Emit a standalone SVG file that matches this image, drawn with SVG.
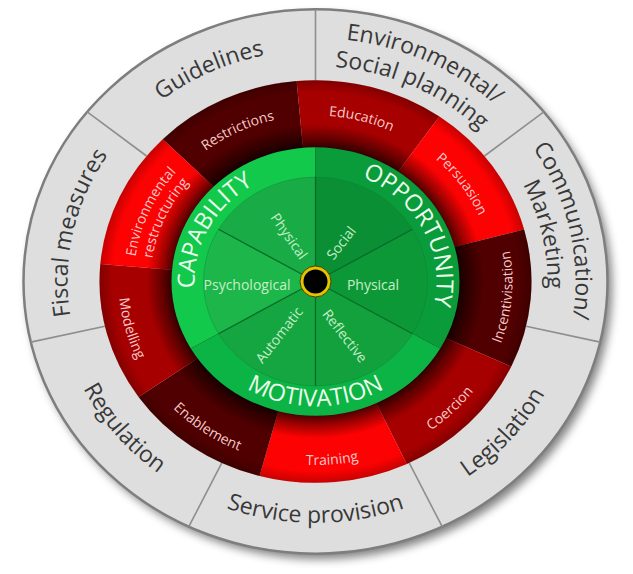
<svg xmlns="http://www.w3.org/2000/svg" width="633" height="574" viewBox="0 0 633 574">
<defs>
<style>
.ol{font-family:"Open Sans","Liberation Sans",sans-serif;font-size:23px;fill:#383838}
.rl{font-family:"Open Sans","Liberation Sans",sans-serif;font-size:14px;fill:#f6caca}
.gl{font-family:"Open Sans","Liberation Sans",sans-serif;font-size:23.5px;fill:#ecffec}
.il{font-family:"Open Sans","Liberation Sans",sans-serif;font-size:14px;fill:#c6efc6}
.div{stroke:#8e8e8e;stroke-width:1.6;fill:none}
.gdiv{stroke:#0a6a28;stroke-width:1.3;fill:none}
.maroon{fill:#500000}
.dred{fill:#a60000}
.bred{fill:#fd0202}
</style>
<filter id="blur" x="-10%" y="-10%" width="120%" height="120%"><feGaussianBlur stdDeviation="5"/></filter>
<radialGradient id="redshade">
<stop offset="0.64" stop-color="#000" stop-opacity="0.8"/>
<stop offset="0.667" stop-color="#000" stop-opacity="0.7"/>
<stop offset="0.71" stop-color="#000" stop-opacity="0.4"/>
<stop offset="0.78" stop-color="#000" stop-opacity="0"/>
<stop offset="0.94" stop-color="#000" stop-opacity="0"/>
<stop offset="1" stop-color="#000" stop-opacity="0.22"/>
</radialGradient>
<path id="tGuidelines" d="M89.5,186.4 A248,231.1 0 0 1 376.8,57.5"/>
<path id="tEnv1" d="M229.2,51.9 A261,243.25 0 0 1 561.8,201.1"/>
<path id="tEnv2" d="M239.2,78.3 A231,215.3 0 0 1 533.5,210.3"/>
<path id="tCom1" d="M457.1,78.3 A260,242.3 0 0 1 533.6,413.5"/>
<path id="tCom2" d="M441.8,100.2 A232,216.2 0 0 1 510.1,399.2"/>
<path id="tLeg" d="M338.1,522.0 A259,241.4 0 0 0 573.5,260.5"/>
<path id="tSer" d="M132.4,452.2 A259,241.4 0 0 0 498.6,452.2"/>
<path id="tReg" d="M58.1,254.6 A259,241.4 0 0 0 286.6,521.4"/>
<path id="tFis" d="M107.5,407.4 A248,231.1 0 0 1 180.4,87.7"/>
<path id="tRes" d="M167.9,188.7 A178,165.9 0 0 1 327.9,116.0"/>
<path id="tEdu" d="M269.4,121.3 A178,165.9 0 0 1 441.4,164.2"/>
<path id="tPer" d="M390.7,131.1 A178,165.9 0 0 1 492.8,267.0"/>
<path id="tEr1" d="M134.5,299.2 A182,169.6 0 0 1 208.5,144.3"/>
<path id="tEr2" d="M151.4,297.6 A165,153.8 0 0 1 218.5,157.1"/>
<path id="tInc" d="M476.9,386.8 A197,183.6 0 0 0 494.0,203.9"/>
<path id="tCoe" d="M366.5,458.8 A197,183.6 0 0 0 505.8,329.0"/>
<path id="tTra" d="M232.2,447.9 A197,183.6 0 0 0 428.5,431.9"/>
<path id="tEna" d="M137.0,359.1 A197,183.6 0 0 0 298.3,464.4"/>
<path id="tMod" d="M125.2,234.0 A197,183.6 0 0 0 176.2,411.3"/>
<path id="tCap" d="M214.0,342.9 A121,112.8 0 0 1 309.2,168.9"/>
<path id="tOpp" d="M321.8,168.9 A121,112.8 0 0 1 417.0,342.9"/>
<path id="tMot" d="M199.5,343.9 A134,124.9 0 0 0 431.5,343.9"/>
</defs>
<rect width="633" height="574" fill="#ffffff"/>

<g id="policy-ring">
<ellipse cx="320" cy="287" rx="292" ry="272" fill="#000" opacity="0.5" filter="url(#blur)"/>
<ellipse cx="315.5" cy="281.5" rx="292" ry="272.14" fill="#dedede" stroke="#7e7e7e" stroke-width="2.5"/>
</g>

<g id="connectors">
<line class="div" x1="315.5" y1="80.2" x2="315.5" y2="9.4"/>
<line class="div" x1="484.4" y1="156.0" x2="543.8" y2="111.8"/>
<line class="div" x1="526.1" y1="326.3" x2="600.2" y2="342.1"/>
<line class="div" x1="409.2" y1="462.9" x2="442.2" y2="526.7"/>
<line class="div" x1="221.8" y1="462.9" x2="188.8" y2="526.7"/>
<line class="div" x1="104.9" y1="326.3" x2="30.8" y2="342.1"/>
<line class="div" x1="146.6" y1="156.0" x2="87.2" y2="111.8"/>
</g>

<g id="guidelines"><text class="ol"><textPath href="#tGuidelines" startOffset="50%" text-anchor="middle">Guidelines</textPath></text></g>
<g id="env-social-planning"><text class="ol"><textPath href="#tEnv1" startOffset="50%" text-anchor="middle">Environmental/</textPath></text><text class="ol"><textPath href="#tEnv2" startOffset="50%" text-anchor="middle">Social planning</textPath></text></g>
<g id="communication-marketing"><text class="ol"><textPath href="#tCom1" startOffset="50%" text-anchor="middle">Communication/</textPath></text><text class="ol"><textPath href="#tCom2" startOffset="50%" text-anchor="middle">Marketing</textPath></text></g>
<g id="legislation"><text class="ol"><textPath href="#tLeg" startOffset="50%" text-anchor="middle">Legislation</textPath></text></g>
<g id="service-provision"><text class="ol"><textPath href="#tSer" startOffset="50%" text-anchor="middle">Service provision</textPath></text></g>
<g id="regulation"><text class="ol"><textPath href="#tReg" startOffset="50%" text-anchor="middle">Regulation</textPath></text></g>
<g id="fiscal-measures"><text class="ol"><textPath href="#tFis" startOffset="50%" text-anchor="middle">Fiscal measures</textPath></text></g>

<g id="restrictions"><path class="maroon" d="M315.5,281.5 L162.76,139.15 A216,201.31 0 0 1 296.67,80.95 Z"/></g>
<g id="education"><path class="dred" d="M315.5,281.5 L296.67,80.95 A216,201.31 0 0 1 439.39,116.59 Z"/></g>
<g id="persuasion"><path class="bred" d="M315.5,281.5 L439.39,116.59 A216,201.31 0 0 1 524.14,229.39 Z"/></g>
<g id="incentivisation"><path class="maroon" d="M315.5,281.5 L524.14,229.39 A216,201.31 0 0 1 511.26,366.58 Z"/></g>
<g id="coercion"><path class="dred" d="M315.5,281.5 L511.26,366.58 A216,201.31 0 0 1 406.79,463.95 Z"/></g>
<g id="training"><path class="bred" d="M315.5,281.5 L406.79,463.95 A216,201.31 0 0 1 259.59,475.95 Z"/></g>
<g id="enablement"><path class="maroon" d="M315.5,281.5 L259.59,475.95 A216,201.31 0 0 1 138.56,396.97 Z"/></g>
<g id="modelling"><path class="dred" d="M315.5,281.5 L138.56,396.97 A216,201.31 0 0 1 100.32,263.95 Z"/></g>
<g id="environmental-restructuring"><path class="bred" d="M315.5,281.5 L100.32,263.95 A216,201.31 0 0 1 162.76,139.15 Z"/></g>
<ellipse cx="315.5" cy="281.5" rx="216" ry="201.31" fill="url(#redshade)"/>

<g id="red-labels">
<text class="rl"><textPath href="#tRes" startOffset="50%" text-anchor="middle">Restrictions</textPath></text>
<text class="rl"><textPath href="#tEdu" startOffset="50%" text-anchor="middle">Education</textPath></text>
<text class="rl"><textPath href="#tPer" startOffset="50%" text-anchor="middle">Persuasion</textPath></text>
<text class="rl"><textPath href="#tInc" startOffset="50%" text-anchor="middle">Incentivisation</textPath></text>
<text class="rl"><textPath href="#tCoe" startOffset="50%" text-anchor="middle">Coercion</textPath></text>
<text class="rl"><textPath href="#tTra" startOffset="50%" text-anchor="middle">Training</textPath></text>
<text class="rl"><textPath href="#tEna" startOffset="50%" text-anchor="middle">Enablement</textPath></text>
<text class="rl"><textPath href="#tMod" startOffset="50%" text-anchor="middle">Modelling</textPath></text>
<text class="rl"><textPath href="#tEr1" startOffset="50%" text-anchor="middle">Environmental</textPath></text>
<text class="rl"><textPath href="#tEr2" startOffset="50%" text-anchor="middle">restructuring</textPath></text>
</g>

<g id="capability"><path fill="#12c94c" d="M315.5,281.5 L190.79,348.6 A144,134.21 0 0 1 315.5,147.29 Z"/></g>
<g id="opportunity"><path fill="#0a9c3a" d="M315.5,281.5 L315.5,147.29 A144,134.21 0 0 1 440.21,348.6 Z"/></g>
<g id="motivation"><path fill="#0cb445" d="M315.5,281.5 L440.21,348.6 A144,134.21 0 0 1 190.79,348.6 Z"/></g>

<g id="social"><path fill="#0b8f35" d="M315.5,281.5 L315.5,177.12 A112,104.38 0 0 1 412.49,229.31 Z"/></g>
<g id="physical-opportunity"><path fill="#0d9838" d="M315.5,281.5 L412.49,229.31 A112,104.38 0 0 1 412.49,333.69 Z"/></g>
<g id="reflective"><path fill="#13a13e" d="M315.5,281.5 L412.49,333.69 A112,104.38 0 0 1 315.5,385.88 Z"/></g>
<g id="automatic"><path fill="#15a541" d="M315.5,281.5 L315.5,385.88 A112,104.38 0 0 1 218.51,333.69 Z"/></g>
<g id="psychological"><path fill="#1cb64a" d="M315.5,281.5 L218.51,333.69 A112,104.38 0 0 1 218.51,229.31 Z"/></g>
<g id="physical-capability"><path fill="#19ac46" d="M315.5,281.5 L218.51,229.31 A112,104.38 0 0 1 315.5,177.12 Z"/></g>
<ellipse cx="315.5" cy="281.5" rx="112" ry="104.38" fill="none" stroke="#0a7a30" stroke-opacity="0.35" stroke-width="1"/>

<g id="green-dividers">
<line class="gdiv" x1="315.5" y1="281.5" x2="315.5" y2="177.1"/>
<line class="gdiv" x1="315.5" y1="281.5" x2="412.5" y2="229.3"/>
<line class="gdiv" x1="315.5" y1="281.5" x2="412.5" y2="333.7"/>
<line class="gdiv" x1="315.5" y1="281.5" x2="315.5" y2="385.9"/>
<line class="gdiv" x1="315.5" y1="281.5" x2="218.5" y2="333.7"/>
<line class="gdiv" x1="315.5" y1="281.5" x2="218.5" y2="229.3"/>
</g>

<g id="green-labels">
<text class="gl"><textPath href="#tCap" startOffset="50%" text-anchor="middle">CAPABILITY</textPath></text>
<text class="gl"><textPath href="#tOpp" startOffset="50%" text-anchor="middle">OPPORTUNITY</textPath></text>
<text class="gl"><textPath href="#tMot" startOffset="50%" text-anchor="middle">MOTIVATION</textPath></text>
</g>

<g id="inner-labels">
<text class="il" text-anchor="middle" transform="translate(285,239) rotate(55)">Physical</text>
<text class="il" text-anchor="middle" transform="translate(345,246) rotate(-52)">Social</text>
<text class="il" text-anchor="middle" x="373" y="290">Physical</text>
<text class="il" text-anchor="middle" transform="translate(341,339) rotate(52)">Reflective</text>
<text class="il" text-anchor="middle" transform="translate(283,338) rotate(-52)">Automatic</text>
<text class="il" text-anchor="middle" x="247" y="290">Psychological</text>
</g>

<g id="hub">
<circle cx="315.5" cy="281.5" r="15.5" fill="#e3c400" stroke="#4a3f00" stroke-width="1"/>
<circle cx="315.5" cy="281.5" r="12" fill="#000"/>
</g>
</svg>
